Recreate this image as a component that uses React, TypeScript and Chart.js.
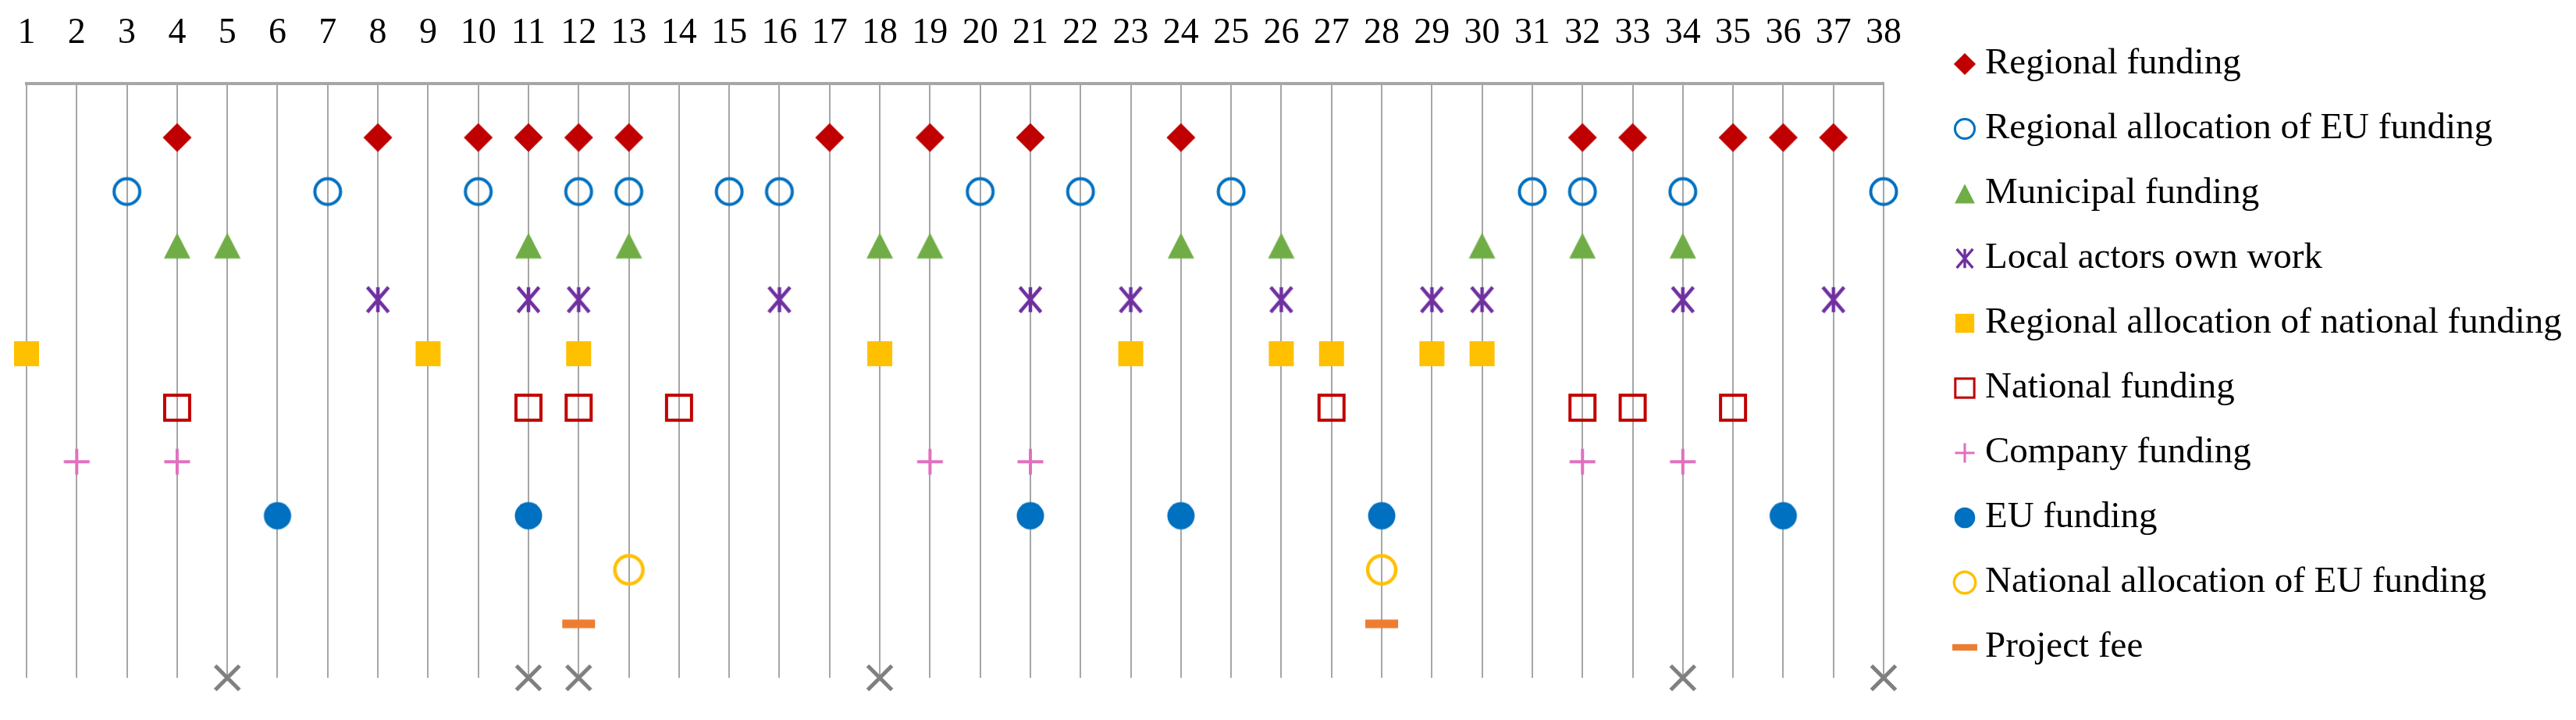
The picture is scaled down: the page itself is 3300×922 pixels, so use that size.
import React, { useEffect, useRef } from 'react';
import { Chart, registerables } from 'chart.js';

Chart.register(...registerables);

// ---------- data ----------
const categories = [
  '1', '2', '3', '4', '5', '6', '7', '8', '9', '10',
  '11', '12', '13', '14', '15', '16', '17', '18', '19', '20',
  '21', '22', '23', '24', '25', '26', '27', '28', '29', '30',
  '31', '32', '33', '34', '35', '36', '37', '38',
];

const seriesLabels = [
  'Regional funding',
  'Regional allocation of EU funding',
  'Municipal funding',
  'Local actors own work',
  'Regional allocation of national funding',
  'National funding',
  'Company funding',
  'EU funding',
  'National allocation of EU funding',
  'Project fee',
];

const regionalFunding = [4, 8, 10, 11, 12, 13, 17, 19, 21, 24, 32, 33, 35, 36, 37];
const regionalAllocationEU = [3, 7, 10, 12, 13, 15, 16, 20, 22, 25, 31, 32, 34, 38];
const municipalFunding = [4, 5, 11, 13, 18, 19, 24, 26, 30, 32, 34];
const localActorsOwnWork = [8, 11, 12, 16, 21, 23, 26, 29, 30, 34, 37];
const regionalAllocationNational = [1, 9, 12, 18, 23, 26, 27, 29, 30];
const nationalFunding = [4, 11, 12, 14, 27, 32, 33, 35];
const companyFunding = [2, 4, 19, 21, 32, 34];
const euFunding = [6, 11, 21, 24, 28, 36];
const nationalAllocationEU = [13, 28];
const projectFee = [12, 28];
const unlabelledCrosses = [5, 11, 12, 18, 34, 38];

// ---------- styles ----------
const FONT = '"Liberation Serif", "Times New Roman", serif';

type Kind = 'diamond' | 'ring' | 'triangle' | 'star' | 'square' | 'hollowSquare' | 'plus' | 'dot' | 'bigRing' | 'dash' | 'x';

const seriesStyles: { kind: Kind; color: string }[] = [
  { kind: 'diamond', color: '#C00000' },
  { kind: 'ring', color: '#0070C0' },
  { kind: 'triangle', color: '#70AD47' },
  { kind: 'star', color: '#7030A0' },
  { kind: 'square', color: '#FFC000' },
  { kind: 'hollowSquare', color: '#C00000' },
  { kind: 'plus', color: '#E070BE' },
  { kind: 'dot', color: '#0070C0' },
  { kind: 'bigRing', color: '#FFC000' },
  { kind: 'dash', color: '#ED7D31' },
  { kind: 'x', color: '#7F7F7F' },
];

function makeMarker(kind: Kind, color: string, s: number): HTMLCanvasElement {
  const size = 50;
  const c = document.createElement('canvas');
  c.width = size;
  c.height = size;
  const g = c.getContext('2d')!;
  g.translate(size / 2, size / 2);
  g.fillStyle = color;
  g.strokeStyle = color;
  g.lineCap = 'butt';
  g.lineJoin = 'miter';
  switch (kind) {
    case 'diamond': {
      const h = 18.5 * s;
      g.beginPath();
      g.moveTo(0, -h); g.lineTo(h, 0); g.lineTo(0, h); g.lineTo(-h, 0);
      g.closePath(); g.fill();
      break;
    }
    case 'ring': {
      g.lineWidth = 4 * s;
      g.beginPath(); g.arc(0, 0, 16.5 * s, 0, Math.PI * 2); g.stroke();
      break;
    }
    case 'bigRing': {
      g.lineWidth = 4.5 * s;
      g.beginPath(); g.arc(0, 0, 18 * s, 0, Math.PI * 2); g.stroke();
      break;
    }
    case 'triangle': {
      const w = 17 * s, h = 16.5 * s;
      g.beginPath();
      g.moveTo(0, -h); g.lineTo(w, h); g.lineTo(-w, h);
      g.closePath(); g.fill();
      break;
    }
    case 'star': {
      const a = 16 * s;
      g.lineWidth = 4.5 * s;
      g.beginPath();
      g.moveTo(-a * 0.85, -a); g.lineTo(a * 0.85, a);
      g.moveTo(a * 0.85, -a); g.lineTo(-a * 0.85, a);
      g.moveTo(0, -a); g.lineTo(0, a);
      g.stroke();
      break;
    }
    case 'square': {
      const h = 16 * s;
      g.fillRect(-h, -h, 2 * h, 2 * h);
      break;
    }
    case 'hollowSquare': {
      const h = 16 * s;
      g.lineWidth = 4 * s;
      g.strokeRect(-h, -h, 2 * h, 2 * h);
      break;
    }
    case 'plus': {
      const a = 16.5 * s;
      g.lineWidth = 4 * s;
      g.beginPath();
      g.moveTo(-a, 0); g.lineTo(a, 0);
      g.moveTo(0, -a); g.lineTo(0, a);
      g.stroke();
      break;
    }
    case 'dot': {
      g.beginPath(); g.arc(0, 0, 17.5 * s, 0, Math.PI * 2); g.fill();
      break;
    }
    case 'dash': {
      g.fillRect(-21 * s, -5.5 * s, 42 * s, 11 * s);
      break;
    }
    case 'x': {
      const a = 15.5 * s;
      g.lineWidth = 5 * s;
      g.beginPath();
      g.moveTo(-a, -a); g.lineTo(a, a);
      g.moveTo(a, -a); g.lineTo(-a, a);
      g.stroke();
      break;
    }
  }
  return c;
}

const LEGEND_MARKER_DX = 104;
const LEGEND_TEXT_DX = 130;
const LEGEND_TOP = 74;
const LEGEND_STEP = 83;

export default function App() {
  const canvasRef = useRef<HTMLCanvasElement | null>(null);

  useEffect(() => {
    const canvas = canvasRef.current;
    if (!canvas) return;

    const seriesValues = [
      regionalFunding,
      regionalAllocationEU,
      municipalFunding,
      localActorsOwnWork,
      regionalAllocationNational,
      nationalFunding,
      companyFunding,
      euFunding,
      nationalAllocationEU,
      projectFee,
      unlabelledCrosses,
    ];

    const plotMarkers = seriesStyles.map((st) => makeMarker(st.kind, st.color, 1));
    const legendMarkers = seriesStyles.map((st) => makeMarker(st.kind, st.color, 0.76));

    const datasets = seriesValues.map((vals, i) => ({
      label: seriesLabels[i] ?? '',
      data: vals.map((c) => ({ x: String(c), y: i + 1 })),
      showLine: false,
      pointStyle: plotMarkers[i],
      pointRadius: 20,
      pointHoverRadius: 20,
      borderColor: seriesStyles[i].color,
      backgroundColor: seriesStyles[i].color,
      clip: false as any,
    }));

    const sideLegend = {
      id: 'sideLegend',
      afterDraw(chart: any) {
        const { ctx, chartArea } = chart;
        ctx.save();
        ctx.font = `47px ${FONT}`;
        ctx.fillStyle = '#000000';
        ctx.textAlign = 'left';
        ctx.textBaseline = 'middle';
        seriesLabels.forEach((label, i) => {
          const y = LEGEND_TOP + i * LEGEND_STEP;
          const img = legendMarkers[i];
          const mx = chartArea.right + LEGEND_MARKER_DX;
          ctx.drawImage(img, mx - img.width / 2, y - img.height / 2);
          ctx.fillText(label, chartArea.right + LEGEND_TEXT_DX, y);
        });
        ctx.restore();
      },
    };

    const chart = new Chart(canvas, {
      type: 'line',
      data: { labels: categories, datasets: datasets as any },
      options: {
        responsive: false,
        animation: false,
        events: [],
        layout: { padding: { top: 0, left: 26, right: 879, bottom: 46 } },
        plugins: {
          legend: { display: false },
          tooltip: { enabled: false },
          title: { display: false },
        },
        scales: {
          x: {
            type: 'category',
            position: 'top',
            offset: false,
            grid: { color: '#A6A6A6', lineWidth: 2, drawTicks: false },
            border: { display: true, color: '#A6A6A6', width: 4 },
            ticks: {
              color: '#000000',
              font: { family: FONT, size: 46, lineHeight: 1 },
              padding: 41,
              autoSkip: false,
              maxRotation: 0,
              minRotation: 0,
            },
            afterFit: (scale: any) => {
              scale.height = 99;
              scale.paddingLeft = 0;
              scale.paddingRight = 0;
            },
          },
          y: {
            type: 'linear',
            min: 0,
            max: 11,
            reverse: true,
            display: false,
          },
        },
      },
      plugins: [sideLegend],
    });

    return () => {
      chart.destroy();
    };
  }, []);

  return (
    <div style={{ width: 3284, height: 906 }}>
      <canvas ref={canvasRef} width={3284} height={906} style={{ display: 'block' }} />
    </div>
  );
}
